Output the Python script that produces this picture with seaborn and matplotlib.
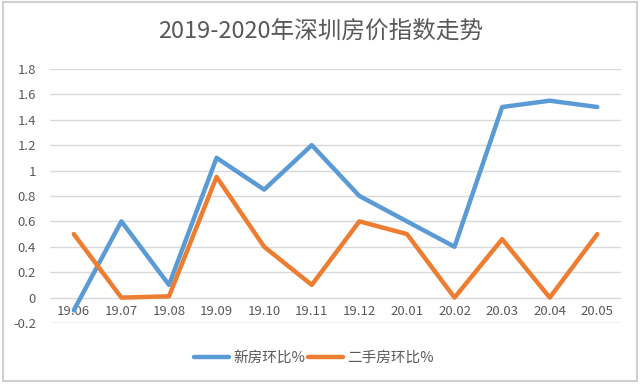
import numpy as np
import pandas as pd
import matplotlib
matplotlib.use("Agg")
import matplotlib.pyplot as plt
import seaborn as sns
from matplotlib.patches import Rectangle

months = ["19.06", "19.07", "19.08", "19.09", "19.10", "19.11",
          "19.12", "20.01", "20.02", "20.03", "20.04", "20.05"]
new_house = [-0.1, 0.6, 0.1, 1.1, 0.85, 1.2, 0.8, 0.6, 0.4, 1.5, 1.55, 1.5]
second_hand = [0.5, 0.0, 0.01, 0.95, 0.4, 0.1, 0.6, 0.5, 0.0, 0.46, 0.0, 0.5]
series_names = ["新房环比%", "二手房环比%"]
yticks = [-0.2, 0, 0.2, 0.4, 0.6, 0.8, 1, 1.2, 1.4, 1.6, 1.8]
ytick_labels = ["-0.2", "0", "0.2", "0.4", "0.6", "0.8", "1", "1.2", "1.4", "1.6", "1.8"]

sns.set_theme(style="white")
plt.rcParams['font.family'] = ['Noto Sans CJK SC', 'DejaVu Sans']

df = pd.DataFrame({
    "month": months * 2,
    "idx": list(range(len(months))) * 2,
    "value": new_house + second_hand,
    "series": [series_names[0]] * len(months) + [series_names[1]] * len(months),
})

colors = ["#5B9BD5", "#ED7D31"]

fig = plt.figure(figsize=(6.41, 3.85), dpi=100)
ax = fig.add_axes([0.078, 0.161, 0.891, 0.660])
sns.lineplot(data=df, x="idx", y="value", hue="series", ax=ax,
             palette=colors, linewidth=3.2, legend=False)

ax.set_xlim(-0.5, len(months) - 0.5)
ax.set_ylim(-0.2, 1.8)
ax.set_yticks(yticks)
ax.set_yticklabels(ytick_labels)
ax.set_xticks(range(len(months)))
ax.set_xticklabels(months)
ax.grid(axis="y", color="#d9d9d9", linewidth=1)
ax.set_axisbelow(True)
for s in ax.spines.values():
    s.set_visible(False)
ax.axhline(-0.2, color="#d9d9d9", linewidth=1, zorder=0)
ax.tick_params(axis="x", length=0, pad=-13, labelsize=9.5, labelcolor="#595959")
ax.tick_params(axis="y", length=0, pad=10, labelsize=9.5, labelcolor="#595959")
ax.set_xlabel("")
ax.set_ylabel("")

fig.text(0.5, 0.92, "2019-2020年深圳房价指数走势", ha="center", va="center",
         fontsize=17, color="#595959")

handles = [plt.Line2D([], [], color=c, linewidth=3.2) for c in colors]
leg = fig.legend(handles, series_names, loc="center", bbox_to_anchor=(0.49, 0.07),
                 ncol=2, frameon=False, fontsize=10.5, handlelength=2.4,
                 columnspacing=0.2, handletextpad=0.3)
for t in leg.get_texts():
    t.set_color("#595959")

fig.patches.append(Rectangle((0.004, 0.01), 0.99, 0.985, transform=fig.transFigure,
                             fill=False, edgecolor="#d0d0d0", linewidth=1.5))

fig.savefig("out.png", dpi=100)
